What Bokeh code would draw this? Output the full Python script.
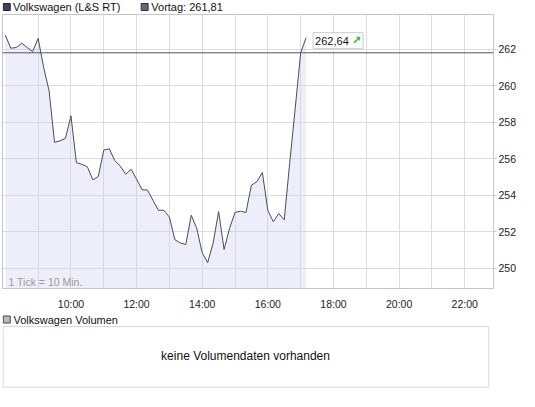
from bokeh.plotting import figure
from bokeh.models import Range1d, FixedTicker, Label, Span
from bokeh.layouts import column
from bokeh.embed import file_html
from bokeh.resources import INLINE
from bokeh.core.properties import value

# ---------------- data ----------------
series_name = "Volkswagen (L&S RT)"
prev_close = 261.81
volume_name = "Volkswagen Volumen"
no_volume_text = "keine Volumendaten vorhanden"
tick_note = "1 Tick = 10 Min."

time_labels = [
    "08:00", "08:10", "08:20", "08:30", "08:40", "08:50",
    "09:00", "09:10", "09:20", "09:30", "09:40", "09:50",
    "10:00", "10:10", "10:20", "10:30", "10:40", "10:50",
    "11:00", "11:10", "11:20", "11:30", "11:40", "11:50",
    "12:00", "12:10", "12:20", "12:30", "12:40", "12:50",
    "13:00", "13:10", "13:20", "13:30", "13:40", "13:50",
    "14:00", "14:10", "14:20", "14:30", "14:40", "14:50",
    "15:00", "15:10", "15:20", "15:30", "15:40", "15:50",
    "16:00", "16:10", "16:20", "16:30", "16:40", "16:50",
    "17:00", "17:10",
]
prices = [
    262.78, 262.06, 262.10, 262.33, 262.10, 261.88,
    262.60, 261.02, 259.73, 256.90, 256.98, 257.12,
    258.35, 255.78, 255.69, 255.56, 254.84, 255.02,
    256.47, 256.55, 255.90, 255.60, 255.15, 255.42,
    254.88, 254.30, 254.28, 253.71, 253.17, 253.17,
    252.80, 251.56, 251.38, 251.29, 252.90, 252.18,
    250.84, 250.30, 251.38, 253.10, 251.02, 252.18,
    253.05, 253.12, 253.05, 254.55, 254.74, 255.24,
    253.17, 252.54, 252.99, 252.64, 255.78, 258.74,
    261.80, 262.64,
]
hour_ticks = [9, 10, 11, 12, 13, 14, 15, 16, 17, 18, 19, 20, 21, 22]
hour_tick_labels = ["", "10:00", "", "12:00", "", "14:00", "", "16:00",
                    "", "18:00", "", "20:00", "", "22:00"]
price_ticks = [250, 252, 254, 256, 258, 260, 262]
x_lo, x_hi = 7.914, 22.877
y_lo, y_hi = 248.88, 263.91

times = [int(t[:2]) + int(t[3:]) / 60 for t in time_labels]

FONT = "Liberation Sans"
W = 519
B_LEFT, B_RIGHT = 2, 22          # shared frame borders of all three panels
FRAME_L, FRAME_R = B_LEFT, W - B_RIGHT


def de(v):
    return f"{v:.2f}".replace(".", ",")


def blank_fig(height):
    f = figure(width=W, height=height, x_range=Range1d(FRAME_L, FRAME_R),
               y_range=Range1d(height, 0),
               output_backend="svg", toolbar_location=None,
               x_axis_location=None, y_axis_location=None,
               min_border_left=B_LEFT, min_border_right=B_RIGHT,
               min_border_top=0, min_border_bottom=0)
    f.xgrid.visible = False
    f.ygrid.visible = False
    f.outline_line_color = None
    f.background_fill_color = "white"
    f.border_fill_color = "white"
    return f


# ---------------- header (legend) ----------------
pA = blank_fig(13)
pA.rect(x=[6.3, 145.3], y=[6.5, 6.5], width=7, height=7,
        fill_color=["#3e3e5e", "#66667a"], line_color=["#222233", "#333344"])
pA.text(x=[12.5, 152], y=[6.5, 6.5], text=[series_name, f"Vortag: {de(prev_close)}"],
        text_font=value(FONT), text_font_size="11px", text_baseline="middle",
        text_color="#111111")

# ---------------- main chart ----------------
pB = figure(width=W, height=299, x_range=Range1d(x_lo, x_hi), y_range=Range1d(y_lo, y_hi),
            output_backend="svg", toolbar_location=None, y_axis_location="right",
            min_border_left=B_LEFT, min_border_right=B_RIGHT,
            min_border_top=1, min_border_bottom=19)
pB.background_fill_color = "white"
pB.border_fill_color = "white"
pB.outline_line_color = "#c4c4c4"

xax = pB.xaxis[0]
xax.ticker = FixedTicker(ticks=hour_ticks)
xax.major_label_overrides = {h: s for h, s in zip(hour_ticks, hour_tick_labels)}
xax.axis_line_color = None
xax.major_tick_line_color = None
xax.minor_tick_line_color = None
xax.major_label_standoff = 3
xax.major_label_text_font = FONT
xax.major_label_text_font_size = "10.5px"
xax.major_label_text_color = "#222222"

yax = pB.yaxis[0]
yax.ticker = FixedTicker(ticks=price_ticks)
yax.axis_line_color = None
yax.major_tick_line_color = "#c4c4c4"
yax.major_tick_out = 3
yax.major_tick_in = 0
yax.minor_tick_line_color = None
yax.major_label_standoff = 2
yax.major_label_text_font = FONT
yax.major_label_text_font_size = "10.5px"
yax.major_label_text_color = "#222222"

pB.xgrid.grid_line_color = "#dcdcdc"
pB.ygrid.grid_line_color = "#dcdcdc"

pB.varea(x=times, y1=y_lo, y2=prices, fill_color="#ceceF1", fill_alpha=0.35)
pB.add_layout(Span(location=prev_close, dimension="width", line_color="#555555", line_width=1))
pB.line(times, prices, line_color="#4a4a5c", line_width=1)

pB.add_layout(Label(x=times[-1], y=prices[-1], text=de(prices[-1]) + "\u00a0" * 4,
                    x_offset=7, y_offset=-3, text_baseline="middle", text_align="left",
                    text_font=FONT, text_font_size="11px", text_color="#111111",
                    background_fill_color="white", border_line_color="#cccccc",
                    padding=2))
pB.add_layout(Label(x=times[-1], y=prices[-1], text="\u2197",
                    x_offset=46, y_offset=-3, text_baseline="middle", text_align="left",
                    text_font="DejaVu Sans", text_font_size="11px", text_font_style="bold",
                    text_color="#22c322"))
pB.add_layout(Label(x=6, y=6.5, x_units="screen", y_units="screen", text=tick_note,
                    text_baseline="middle", text_align="left", text_font=FONT,
                    text_font_size="10.5px", text_color="#9a9a9a"))

# ---------------- volume panel ----------------
pC = blank_fig(79)
pC.rect(x=[6.3], y=[7], width=7, height=7, fill_color="#bbbbbb", line_color="#444444")
pC.text(x=[13], y=[7], text=[volume_name], text_font=value(FONT), text_font_size="11px",
        text_baseline="middle", text_color="#111111")
pC.quad(left=[2.7], right=[492.3], top=[14], bottom=[74.7], fill_color="white",
        line_color="#d8d8d8")
pC.text(x=[247], y=[43.7], text=[no_volume_text], text_font=value(FONT),
        text_font_size="12px", text_align="center", text_baseline="middle",
        text_color="#111111")

layout = column(pA, pB, pC, spacing=0)
open("out.html", "w").write(file_html(layout, INLINE))
